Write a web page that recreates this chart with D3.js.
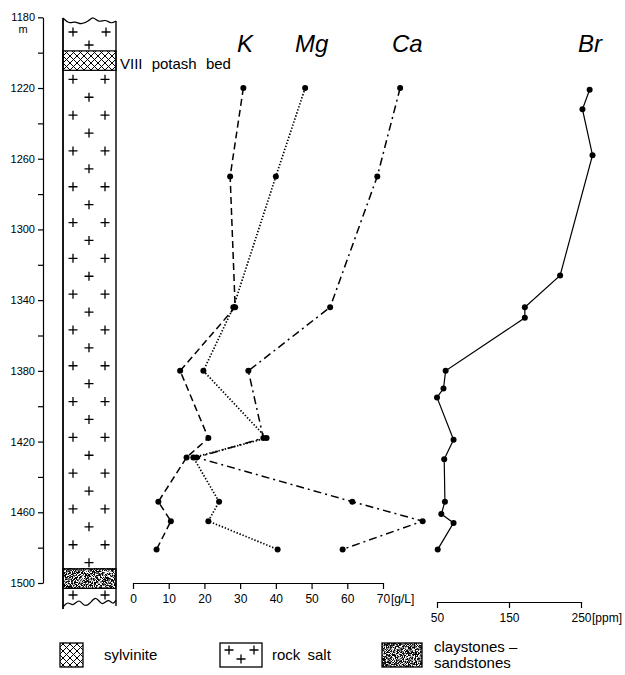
<!DOCTYPE html>
<html>
<head>
<meta charset="utf-8">
<script src="https://cdn.jsdelivr.net/npm/d3@7"></script>
<style>
  body { margin: 0; background: #fff; }
  svg { display: block; }
  text { font-family: "Liberation Sans", Arial, sans-serif; fill: #000; }
  .axis path, .axis line { stroke: #000; stroke-width: 1.2; }
  .axis text { font-size: 12px; }
</style>
</head>
<body>
<div id="chart"></div>
<script>
'use strict';

// depth of the samples (m) for K, Mg, Ca in g/L
var chemDepth = [1220, 1270, 1344, 1380, 1418, 1429, 1454, 1465, 1481];
var kVals  = [30.9, 27.2, 28.6, 13.2, 21.1, 15.0, 7.1, 10.6, 6.6];
var mgVals = [48.2, 40.0, 28.1, 19.7, 37.4, 16.9, 24.1, 21.1, 40.5];
var caVals = [74.8, 68.4, 55.2, 32.3, 36.5, 17.8, 61.4, 81.1, 58.7];

// bromine in ppm
var brDepth = [1221, 1232, 1258, 1326, 1344, 1350, 1380, 1390, 1395, 1419, 1430, 1454, 1461, 1466, 1481];
var brVals  = [262, 252, 266, 221, 172, 172, 62, 59, 50, 73, 60, 61, 56, 73, 51];

var depthTicks = [1180, 1200, 1220, 1240, 1260, 1280, 1300, 1320, 1340, 1360, 1380, 1400, 1420, 1440, 1460, 1480, 1500];
var depthLabels = [1180, 1220, 1260, 1300, 1340, 1380, 1420, 1460, 1500];
var glTicks = [0, 10, 20, 30, 40, 50, 60, 70];
var brTicks = [50, 150, 250];

// lithology layers of the column (m)
var sylviniteTop = 1199, sylviniteBottom = 1210;
var clayTop = 1492, clayBottom = 1503;

var width = 625, height = 675;

var svg = d3.select('#chart').append('svg')
  .attr('width', width)
  .attr('height', height);

var defs = svg.append('defs');

var hatch = defs.append('pattern')
  .attr('id', 'hatch')
  .attr('patternUnits', 'userSpaceOnUse')
  .attr('width', 7).attr('height', 7);
hatch.append('path')
  .attr('d', 'M0,0L7,7M7,0L0,7M-1,6L1,8M6,-1L8,1M-1,1L1,-1M6,8L8,6')
  .attr('stroke', '#000').attr('stroke-width', 1);

var stip = defs.append('filter')
  .attr('id', 'stipple')
  .attr('x', 0).attr('y', 0).attr('width', 1).attr('height', 1);
stip.append('feTurbulence')
  .attr('type', 'fractalNoise')
  .attr('baseFrequency', 1.1)
  .attr('numOctaves', 2)
  .attr('seed', 4);
stip.append('feColorMatrix')
  .attr('type', 'matrix')
  .attr('values', '0 0 0 0 0  0 0 0 0 0  0 0 0 0 0  6 0 0 0 -2.4');

var y = d3.scaleLinear().domain([1180, 1500]).range([17.3, 583]);
var xGl = d3.scaleLinear().domain([0, 70]).range([133, 383]);
var xBr = d3.scaleLinear().domain([50, 250]).range([437, 581]);

// depth axis
svg.append('g')
  .attr('class', 'axis')
  .attr('transform', 'translate(43,0)')
  .call(d3.axisLeft(y)
    .tickValues(depthTicks)
    .tickSize(5)
    .tickSizeOuter(0)
    .tickPadding(3)
    .tickFormat(function(d){ return depthLabels.indexOf(d) >= 0 ? d : ''; }))
  .selectAll('text').style('font-size', '11px');

svg.append('text')
  .attr('x', 23).attr('y', 33)
  .attr('text-anchor', 'middle')
  .style('font-size', '11px')
  .text('m');

// lithological column
var colL = 63, colR = 116;

svg.append('rect')
  .attr('x', colL).attr('y', y(sylviniteTop))
  .attr('width', colR - colL).attr('height', y(sylviniteBottom) - y(sylviniteTop))
  .attr('fill', 'url(#hatch)').attr('stroke', '#000').attr('stroke-width', 1.2);

function stippleBox(g, x0, y0, w, h) {
  g.append('rect').attr('x', x0).attr('y', y0).attr('width', w).attr('height', h).attr('fill', '#fff');
  g.append('rect').attr('x', x0).attr('y', y0).attr('width', w).attr('height', h)
    .attr('fill', '#000').attr('filter', 'url(#stipple)');
  g.append('rect').attr('x', x0).attr('y', y0).attr('width', w).attr('height', h)
    .attr('fill', 'none').attr('stroke', '#000').attr('stroke-width', 1.3);
}
stippleBox(svg, colL, y(clayTop), colR - colL, y(clayBottom) - y(clayTop));

var wave = d3.line().curve(d3.curveBasis);
svg.append('path')
  .attr('d', wave([[colL, 18], [colL + 6, 24], [colL + 12, 21], [colL + 18, 25], [colL + 26, 21],
    [colL + 30, 16], [colL + 36, 23], [colL + 42, 19], [colL + 48, 24], [colR, 21]]))
  .attr('fill', 'none').attr('stroke', '#000').attr('stroke-width', 1.2);
svg.append('path')
  .attr('d', wave([[colL, 607], [colL + 5, 601], [colL + 10, 607], [colL + 16, 598], [colL + 21, 607],
    [colL + 27, 604], [colL + 33, 595], [colL + 39, 607], [colL + 45, 598], [colL + 50, 605], [colR, 600]]))
  .attr('fill', 'none').attr('stroke', '#000').attr('stroke-width', 1.2);

svg.append('line')
  .attr('x1', colL).attr('x2', colL).attr('y1', 18).attr('y2', 609)
  .attr('stroke', '#000').attr('stroke-width', 1.8);
svg.append('line')
  .attr('x1', colR).attr('x2', colR).attr('y1', 21).attr('y2', 606)
  .attr('stroke', '#000').attr('stroke-width', 1.4);

function plus(g, cx, cy) {
  g.append('path')
    .attr('d', 'M' + (cx - 4.5) + ',' + cy + 'H' + (cx + 4.5) + 'M' + cx + ',' + (cy - 4.5) + 'V' + (cy + 4.5))
    .attr('stroke', '#000').attr('stroke-width', 1.3);
}

var salt = svg.append('g');
plus(salt, 73, 32); plus(salt, 106, 32); plus(salt, 89, 45);
var rowY = y(sylviniteBottom) + 9;
var k = 0;
while (rowY < y(clayTop) - 3) {
  if (k % 2 === 0) { plus(salt, 73, rowY); plus(salt, 105, rowY); }
  else { plus(salt, 89, rowY); }
  rowY += 17.9; k++;
}
plus(salt, 73, 595); plus(salt, 105, 595);

svg.append('text')
  .attr('x', 120).attr('y', 69)
  .style('font-size', '15px')
  .style('word-spacing', '5px')
  .text('VIII potash bed');

// concentration axes
svg.append('g')
  .attr('class', 'axis')
  .attr('transform', 'translate(0,583)')
  .call(d3.axisBottom(xGl).tickValues(glTicks).tickSize(6).tickSizeOuter(0).tickPadding(5));
svg.append('text')
  .attr('x', xGl(70) + 8).attr('y', 603)
  .style('font-size', '12px')
  .text('[g/L]');

svg.append('g')
  .attr('class', 'axis')
  .attr('transform', 'translate(0,602)')
  .call(d3.axisBottom(xBr).tickValues(brTicks).tickSize(6).tickSizeOuter(0).tickPadding(5));
svg.append('text')
  .attr('x', xBr(250) + 11).attr('y', 622)
  .style('font-size', '12px')
  .text('[ppm]');

// series
var series = [
  { name: 'K',  x: xGl, depth: chemDepth, vals: kVals,  dash: '7,4',      w: 1.5, lx: 237, ly: 52 },
  { name: 'Mg', x: xGl, depth: chemDepth, vals: mgVals, dash: '1.4,1.8',  w: 1.7, lx: 295, ly: 52 },
  { name: 'Ca', x: xGl, depth: chemDepth, vals: caVals, dash: '8,4,2,4',  w: 1.5, lx: 392, ly: 52 },
  { name: 'Br', x: xBr, depth: brDepth,   vals: brVals, dash: null,       w: 1.2, lx: 578, ly: 52 }
];

series.forEach(function(s) {
  var pts = s.vals.map(function(v, i){ return [s.x(v), y(s.depth[i])]; });
  svg.append('path')
    .attr('d', d3.line()(pts))
    .attr('fill', 'none')
    .attr('stroke', '#000')
    .attr('stroke-width', s.w)
    .attr('stroke-dasharray', s.dash);
  svg.append('g').selectAll('circle')
    .data(pts)
    .enter().append('circle')
      .attr('cx', function(d){ return d[0]; })
      .attr('cy', function(d){ return d[1]; })
      .attr('r', 3)
      .attr('fill', '#000');
  svg.append('text')
    .attr('x', s.lx).attr('y', s.ly)
    .style('font-size', '24px')
    .style('font-style', 'italic')
    .text(s.name);
});

// legend
var legend = svg.append('g');
var legY = 643, legH = 24;

legend.append('rect')
  .attr('x', 60).attr('y', legY).attr('width', 23).attr('height', legH)
  .attr('fill', 'url(#hatch)').attr('stroke', '#000').attr('stroke-width', 1.3);
legend.append('text').attr('x', 104).attr('y', legY + 17).style('font-size', '15px').text('sylvinite');

legend.append('rect')
  .attr('x', 220).attr('y', legY).attr('width', 42).attr('height', legH)
  .attr('fill', '#fff').attr('stroke', '#000').attr('stroke-width', 1.3);
plus(legend, 229, legY + 7); plus(legend, 254, legY + 7); plus(legend, 241, legY + 16);
legend.append('text').attr('x', 272).attr('y', legY + 17).style('font-size', '15px')
  .style('word-spacing', '3px').text('rock salt');

stippleBox(legend, 382, legY, 40, legH);
legend.append('text').attr('x', 434).attr('y', legY + 9).style('font-size', '15px').text('claystones –');
legend.append('text').attr('x', 434).attr('y', legY + 25).style('font-size', '15px').text('sandstones');
</script>
</body>
</html>
